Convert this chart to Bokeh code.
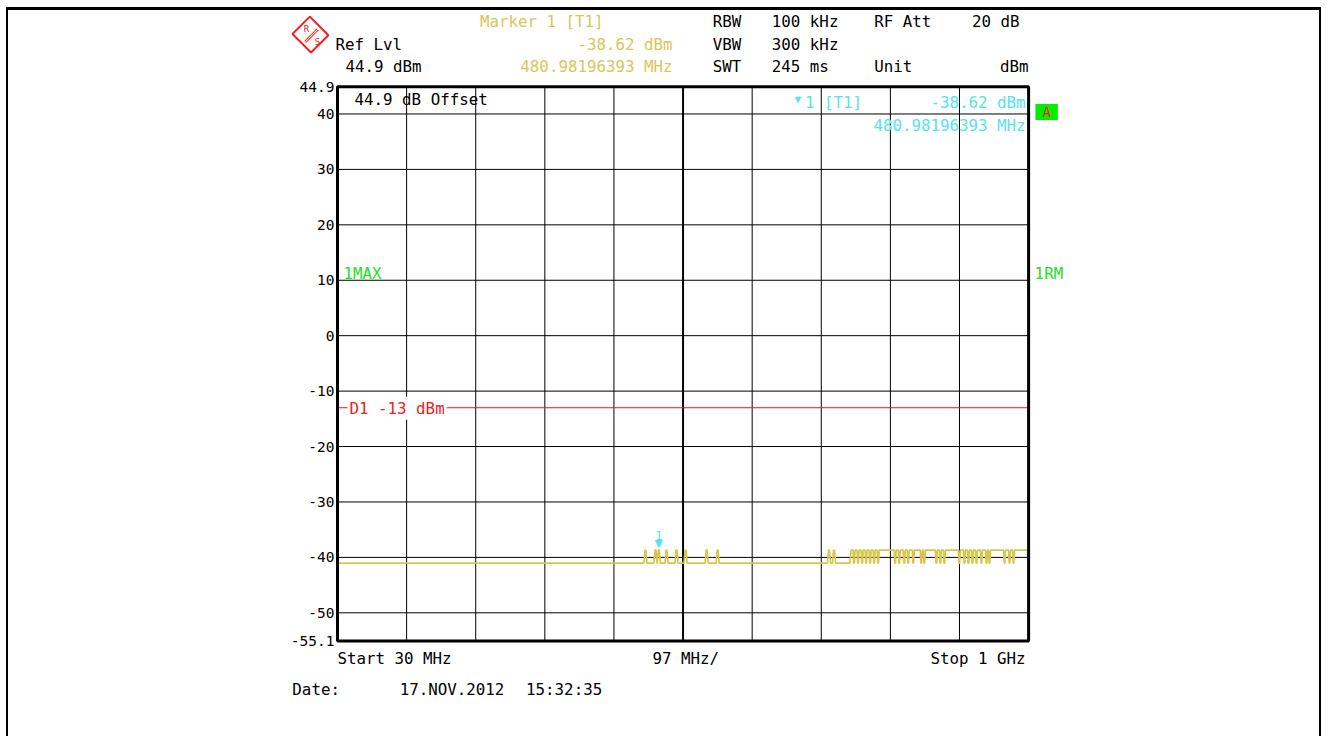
from bokeh.plotting import figure
from bokeh.models import Label, Range1d
from bokeh.core.properties import value
from bokeh.embed import file_html
from bokeh.resources import INLINE

# ---------------- data ----------------
START_MHZ = 30.0
STOP_MHZ = 1000.0
DIV_MHZ = 97.0
REF_LVL_DBM = 44.9
BOTTOM_DBM = -55.1
Y_TICKS = [44.9, 40, 30, 20, 10, 0, -10, -20, -30, -40, -50, -55.1]
Y_TICK_LABELS = ["44.9", "40", "30", "20", "10", "0", "-10", "-20", "-30", "-40", "-50", "-55.1"]
Y_GRID_DBM = [40, 30, 20, 10, 0, -10, -20, -30, -40, -50]
X_GRID_MHZ = [127, 224, 321, 418, 612, 709, 806, 903]
CENTER_MHZ = 515
DISPLAY_LINE_DBM = -13.0

NOISE_FLOOR_DBM = -41.05
SPUR_PEAK_DBM = -38.7
SPUR_FREQS_MHZ = [462.2, 476.3, 480.98, 491.8, 505.8, 518.5, 548.1, 563.6, 719.8, 726.9]
PLATEAU_START_MHZ = 750.0
PLATEAU_DIPS_MHZ = [755.0, 760.6, 766.3, 771.9, 777.5, 783.2, 788.8,
                    812.7, 818.4, 825.4, 831.0, 838.1, 849.3, 853.6, 870.5, 876.1, 881.7,
                    902.8, 909.9, 915.5, 921.1, 926.8, 933.8, 940.9, 945.1,
                    966.2, 973.2, 978.9]
MARKER_FREQ_MHZ = 480.98196393
MARKER_LEVEL_DBM = -38.62

# ------------- trace from the values -------------
tf, tl = [START_MHZ], [NOISE_FLOOR_DBM]
for f in SPUR_FREQS_MHZ:
    pk = MARKER_LEVEL_DBM if abs(f - MARKER_FREQ_MHZ) < 0.5 else SPUR_PEAK_DBM
    tf += [f - 2.2, f - 0.6, f + 0.6, f + 2.2]
    tl += [NOISE_FLOOR_DBM, pk, pk, NOISE_FLOOR_DBM]
tf += [PLATEAU_START_MHZ - 0.7, PLATEAU_START_MHZ + 0.7]
tl += [NOISE_FLOOR_DBM, SPUR_PEAK_DBM]
for d in PLATEAU_DIPS_MHZ:
    tf += [d - 1.4, d - 0.4, d + 0.4, d + 1.4]
    tl += [SPUR_PEAK_DBM, NOISE_FLOOR_DBM, NOISE_FLOOR_DBM, SPUR_PEAK_DBM]
tf.append(STOP_MHZ)
tl.append(SPUR_PEAK_DBM)

# ---------------- page geometry (pixels) ----------------
FRAME_L, FRAME_R, FRAME_T, FRAME_B = 338, 1027, 86, 638
CONTENT_L, CONTENT_T = 10, 10
W, H = 1311, 726


def fx(px):
    return START_MHZ + (px - FRAME_L) * (STOP_MHZ - START_MHZ) / (FRAME_R - FRAME_L)


def fy(py):
    return REF_LVL_DBM - (py - FRAME_T) * (REF_LVL_DBM - BOTTOM_DBM) / (FRAME_B - FRAME_T)


p = figure(width=W, height=H, output_backend="svg", toolbar_location=None,
           x_range=Range1d(fx(CONTENT_L), fx(CONTENT_L + W)),
           y_range=Range1d(fy(CONTENT_T + H), fy(CONTENT_T)),
           x_axis_type=None, y_axis_type=None, min_border=0)
p.styles = {"box-sizing": "content-box", "margin-left": "6px", "margin-top": "7px",
            "border-top": "3px solid black", "border-left": "2px solid black",
            "border-right": "2px solid black"}
p.background_fill_color = "white"
p.border_fill_color = "white"
p.outline_line_color = None
p.grid.visible = False

# grid
p.segment(x0=X_GRID_MHZ, x1=X_GRID_MHZ, y0=[BOTTOM_DBM] * len(X_GRID_MHZ),
          y1=[REF_LVL_DBM] * len(X_GRID_MHZ), line_color="black", line_width=1)
p.segment(x0=[START_MHZ] * len(Y_GRID_DBM), x1=[STOP_MHZ] * len(Y_GRID_DBM),
          y0=Y_GRID_DBM, y1=Y_GRID_DBM, line_color="black", line_width=1)
p.segment(x0=[CENTER_MHZ], x1=[CENTER_MHZ], y0=[BOTTOM_DBM], y1=[REF_LVL_DBM],
          line_color="black", line_width=2)
# display line D1
p.segment(x0=[START_MHZ], x1=[STOP_MHZ], y0=[DISPLAY_LINE_DBM], y1=[DISPLAY_LINE_DBM],
          line_color="#ee1111", line_width=1.2)

# trace
p.line(tf, tl, line_color="#d8c64a", line_width=1.7)

# frame
p.quad(left=[START_MHZ], right=[STOP_MHZ], bottom=[BOTTOM_DBM], top=[REF_LVL_DBM],
       fill_color=None, line_color="black", line_width=3)

# y tick labels
p.text(x=[START_MHZ] * len(Y_TICKS), y=Y_TICKS, text=Y_TICK_LABELS, x_offset=-3,
       text_align="right", text_baseline="middle", text_color="black",
       text_font=value("DejaVu Sans Mono"), text_font_size="14.5px")

# marker
CYAN = "#55e3ef"
p.text(x=[MARKER_FREQ_MHZ], y=[MARKER_LEVEL_DBM], text=["\u25BC"], text_color=CYAN,
       text_font=value("DejaVu Sans"), text_font_size="11px", text_align="center",
       text_baseline="bottom", y_offset=0)
p.text(x=[MARKER_FREQ_MHZ], y=[MARKER_LEVEL_DBM], text=["1"], text_color=CYAN,
       text_font=value("DejaVu Sans Mono"), text_font_size="12px", text_align="center",
       text_baseline="bottom", y_offset=-10)


def lab(text, px, py, color="black", align="left", size="15.8px", **kw):
    p.add_layout(Label(x=fx(px), y=fy(py), text=text, text_color=color, text_align=align,
                       text_baseline="middle", text_font="DejaVu Sans Mono",
                       text_font_size=size, **kw))


YEL = "#d9c659"
GREEN = "#22e022"
RED = "#f02020"

# header
lab("Ref Lvl", 336, 44)
lab("44.9 dBm", 346, 66)
lab("Marker 1 [T1]", 480, 21, YEL)
lab("-38.62 dBm", 672, 44, YEL, "right")
lab("480.98196393 MHz", 672, 66, YEL, "right")
lab("RBW", 712, 21)
lab("100 kHz", 771, 21)
lab("RF Att", 873, 21)
lab("20 dB", 1018, 21, align="right")
lab("VBW", 712, 44)
lab("300 kHz", 771, 44)
lab("SWT", 712, 66)
lab("245 ms", 771, 66)
lab("Unit", 873, 66)
lab("dBm", 1027, 66, align="right")

# R&S logo
p.add_layout(Label(x=fx(311), y=fy(34), text=" ", text_font_size="2px", text_align="center",
                   text_baseline="middle", padding=12, angle=45, angle_units="deg",
                   border_line_color=RED, border_line_width=2, background_fill_color="white"))
p.add_layout(Label(x=fx(312), y=fy(35), text="\u2550\u2550\u2550", text_color=RED,
                   text_font="DejaVu Sans Mono", text_font_size="10px", text_align="center",
                   text_baseline="middle", angle=45, angle_units="deg"))
lab("R", 307, 28, RED, "center", "9px")
lab("S", 318, 41, RED, "center", "9px")

# inside plot
lab("44.9 dB Offset", 355, 99)
lab("\u25BC", 797, 99, CYAN, "center", "11px")
lab("1 [T1]", 804, 102, CYAN)
lab("-38.62 dBm", 1024, 102, CYAN, "right")
lab("480.98196393 MHz", 1024, 125, CYAN, "right")
lab("1MAX", 344, 272, GREEN)
lab("1RM", 1033, 272, GREEN)
lab("D1 -13 dBm", 348, 406, RED, background_fill_color="white", padding=2)
lab("A", 1045, 111, RED, "center", "14px", background_fill_color="#00ee00",
    padding=dict(left=7, right=7, top=0, bottom=0))

# footer
lab("Start 30 MHz", 338, 655)
lab("97 MHz/", 652, 655)
lab("Stop 1 GHz", 1024, 655, align="right")
lab("Date:", 293, 686)
lab("17.NOV.2012", 400, 686)
lab("15:32:35", 526, 686)

open("out.html", "w").write(file_html(p, INLINE))
